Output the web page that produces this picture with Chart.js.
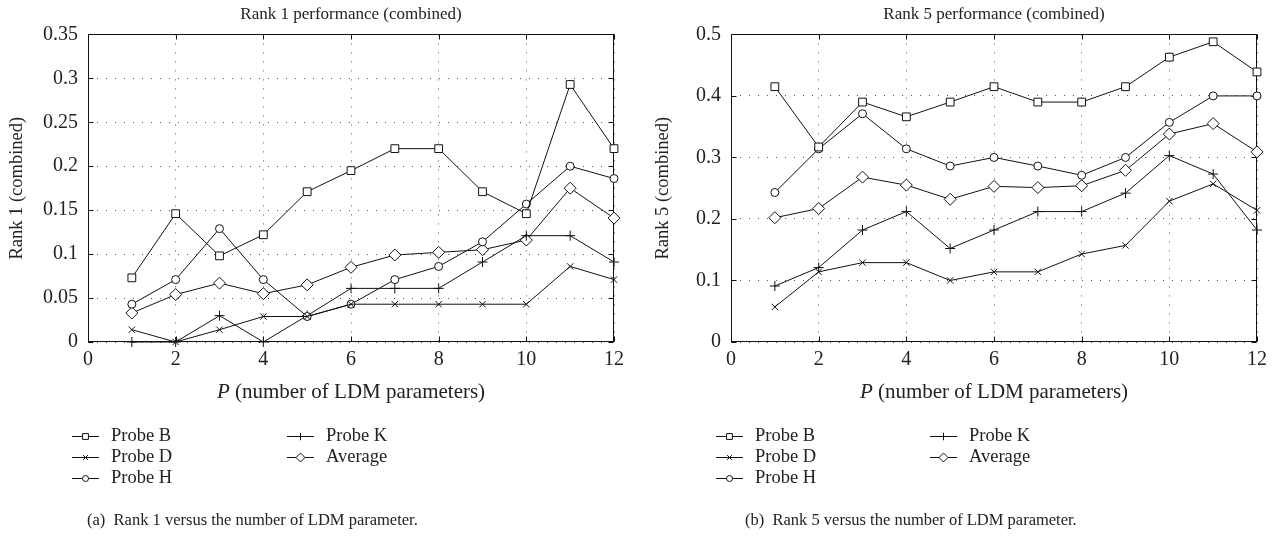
<!DOCTYPE html>
<html><head><meta charset="utf-8">
<script src="https://cdn.jsdelivr.net/npm/chart.js@4.4.0/dist/chart.umd.min.js"></script>
<style>
html,body{margin:0;padding:0;background:#fff;width:1274px;height:540px;overflow:hidden;}
.panel{position:absolute;top:0;height:540px;}
#p1{left:0;width:643px;}
#p2{left:643px;width:631px;}
.cap{position:absolute;top:511px;font-family:"Liberation Serif",serif;font-size:16.5px;color:#222;white-space:pre;line-height:18px;}
</style></head><body>
<div class="panel" id="p1"><canvas id="c1" width="643" height="540"></canvas></div>
<div class="panel" id="p2"><canvas id="c2" width="631" height="540"></canvas></div>
<div class="cap" style="left:87px">(a)  Rank 1 versus the number of LDM parameter.</div>
<div class="cap" style="left:745px">(b)  Rank 5 versus the number of LDM parameter.</div>
<script>
// ---- data ----
const P = [1,2,3,4,5,6,7,8,9,10,11,12];
const xTicks = [0,2,4,6,8,10,12];
const yTicksRank1 = [0,0.05,0.1,0.15,0.2,0.25,0.3,0.35];
const yTicksRank5 = [0,0.1,0.2,0.3,0.4,0.5];
const seriesNames = ['Probe B','Probe D','Probe H','Probe K','Average'];

const rank1ProbeB = [0.073,0.146,0.098,0.122,0.171,0.195,0.220,0.220,0.171,0.146,0.293,0.220];
const rank1ProbeD = [0.014,0,0.014,0.029,0.029,0.043,0.043,0.043,0.043,0.043,0.086,0.071];
const rank1ProbeH = [0.043,0.071,0.129,0.071,0.029,0.043,0.071,0.086,0.114,0.157,0.200,0.186];
const rank1ProbeK = [0,0,0.030,0,0.030,0.061,0.061,0.061,0.091,0.121,0.121,0.091];
const rank1Average = [0.033,0.054,0.067,0.055,0.065,0.085,0.099,0.102,0.105,0.116,0.175,0.141];

const rank5ProbeB = [0.415,0.317,0.390,0.366,0.390,0.415,0.390,0.390,0.415,0.463,0.488,0.439];
const rank5ProbeD = [0.057,0.114,0.129,0.129,0.100,0.114,0.114,0.143,0.157,0.229,0.257,0.214];
const rank5ProbeH = [0.243,0.314,0.371,0.314,0.286,0.300,0.286,0.271,0.300,0.357,0.400,0.400];
const rank5ProbeK = [0.091,0.121,0.182,0.212,0.152,0.182,0.212,0.212,0.242,0.303,0.273,0.182];
const rank5Average = [0.202,0.217,0.268,0.255,0.232,0.253,0.251,0.254,0.279,0.338,0.355,0.309];

// ---- styling ----
const FONT = '"Liberation Serif", "Times New Roman", serif';
const TXT = '#222';
const LINE = '#111';
const styles = [
  {pointStyle:'rect', radius:5.5},
  {pointStyle:'crossRot', radius:4.5},
  {pointStyle:'circle', radius:4},
  {pointStyle:'cross', radius:5},
  {pointStyle:'rectRot', radius:6}
];
const legendPos = [[0,0],[0,1],[0,2],[1,0],[1,1]]; // [column,row]

const framePlugin = {
  id:'frame',
  beforeDatasetsDraw(chart){
    const {ctx, chartArea:a, scales:{x,y}} = chart;
    const L = Math.round(a.left)+0.5, R = Math.round(a.right)-0.5, T = Math.round(a.top)+0.5, B = Math.round(a.bottom)-0.5;
    ctx.save();
    ctx.strokeStyle = LINE; ctx.lineWidth = 1;
    ctx.beginPath();
    x.ticks.forEach(t=>{const p=Math.round(x.getPixelForValue(t.value))+0.5; ctx.moveTo(p,B); ctx.lineTo(p,B-5); ctx.moveTo(p,T); ctx.lineTo(p,T+5);});
    y.ticks.forEach(t=>{const p=Math.round(y.getPixelForValue(t.value))+0.5; ctx.moveTo(L,p); ctx.lineTo(L+5,p); ctx.moveTo(R,p); ctx.lineTo(R-5,p);});
    ctx.stroke();
    ctx.strokeRect(L,T,R-L,B-T);
    ctx.restore();
  }
};

const xTitlePlugin = {
  id:'xTitle',
  afterDraw(chart, args, opts){
    const {ctx, chartArea:a} = chart;
    ctx.save();
    ctx.fillStyle = TXT; ctx.textBaseline = 'middle';
    const f1 = 'italic 21px ' + FONT, f2 = '21px ' + FONT;
    const s1 = 'P', s2 = ' (number of LDM parameters)';
    ctx.font = f1; const w1 = ctx.measureText(s1).width;
    ctx.font = f2; const w2 = ctx.measureText(s2).width;
    const x0 = (a.left + a.right)/2 - (w1+w2)/2;
    ctx.textAlign = 'left';
    ctx.font = f1; ctx.fillText(s1, x0, opts.y);
    ctx.font = f2; ctx.fillText(s2, x0 + w1, opts.y);
    ctx.restore();
  }
};

function marker(ctx, st, x, y){
  if (Chart.helpers && Chart.helpers.drawPoint){
    Chart.helpers.drawPoint(ctx, {pointStyle:st.pointStyle, radius:st.radius, rotation:0, borderWidth:1}, x, y);
  }
}

const legendPlugin = {
  id:'colLegend',
  afterDraw(chart, args, opts){
    const {ctx} = chart;
    ctx.save();
    chart.data.datasets.forEach((ds, i)=>{
      const [c, r] = legendPos[i];
      const lx = opts.cols[c], ly = opts.rows[r];
      ctx.strokeStyle = LINE; ctx.lineWidth = 1;
      ctx.beginPath(); ctx.moveTo(lx, ly+0.5); ctx.lineTo(lx+27, ly+0.5); ctx.stroke();
      ctx.fillStyle = '#fff'; ctx.strokeStyle = LINE;
      marker(ctx, {pointStyle:styles[i].pointStyle, radius:styles[i].radius*0.75}, lx+13.5, ly+0.5);
      ctx.fillStyle = TXT; ctx.font = '18.5px ' + FONT; ctx.textBaseline = 'middle'; ctx.textAlign = 'left';
      ctx.fillText(ds.label, lx+39, ly);
    });
    ctx.restore();
  }
};

function makeChart(id, title, yTitle, yTicks, values, cfg){
  return new Chart(document.getElementById(id), {
    type:'line',
    data:{
      datasets: values.map((vals, i)=>({
        label: seriesNames[i],
        data: P.map((p, j)=>({x:p, y:vals[j]})),
        borderColor: LINE, backgroundColor:'#fff', borderWidth:1,
        pointStyle: styles[i].pointStyle, pointRadius: styles[i].radius,
        pointBorderColor: LINE, pointBackgroundColor:'#fff', pointBorderWidth:1,
        tension:0, fill:false, clip:false
      }))
    },
    options:{
      responsive:false, animation:false, devicePixelRatio:1,
      layout:{padding:{left:0, right:cfg.right, top:0, bottom:138}},
      plugins:{
        legend:{display:false}, tooltip:{enabled:false},
        title:{display:true, text:title, fullSize:false, color:TXT,
          font:{family:FONT, size:17, weight:'normal'}, padding:{top:4, bottom:10}},
        xTitle:{y:392},
        colLegend:{cols:cfg.legendCols, rows:[436,457,478]}
      },
      scales:{
        x:{type:'linear', min:0, max:12,
          afterBuildTicks:s=>{s.ticks = xTicks.map(v=>({value:v}));},
          ticks:{color:TXT, font:{family:FONT, size:20}, padding:6, maxRotation:0, callback:v=>String(v)},
          grid:{color:'#555', drawTicks:false, lineWidth:1},
          border:{display:false, dash:[1,8]},
          afterFit:s=>{s.height=60;}
        },
        y:{type:'linear', min:yTicks[0], max:yTicks[yTicks.length-1],
          afterBuildTicks:s=>{s.ticks = yTicks.map(v=>({value:v}));},
          ticks:{color:TXT, font:{family:FONT, size:20}, padding:10, callback:v=>String(v)},
          grid:{color:'#555', drawTicks:false, lineWidth:1},
          border:{display:false, dash:[1,8]},
          title:{display:true, text:yTitle, color:TXT, font:{family:FONT, size:18.5}, padding:{top:cfg.yTitlePad, bottom:0}},
          afterFit:s=>{s.width=88;}
        }
      }
    },
    plugins:[framePlugin, xTitlePlugin, legendPlugin]
  });
}

makeChart('c1', 'Rank 1 performance (combined)', 'Rank 1 (combined)', yTicksRank1,
  [rank1ProbeB, rank1ProbeD, rank1ProbeH, rank1ProbeK, rank1Average],
  {right:29, yTitlePad:6, legendCols:[72, 287]});
makeChart('c2', 'Rank 5 performance (combined)', 'Rank 5 (combined)', yTicksRank5,
  [rank5ProbeB, rank5ProbeD, rank5ProbeH, rank5ProbeK, rank5Average],
  {right:17, yTitlePad:9, legendCols:[73, 287]});
</script>
</body></html>
